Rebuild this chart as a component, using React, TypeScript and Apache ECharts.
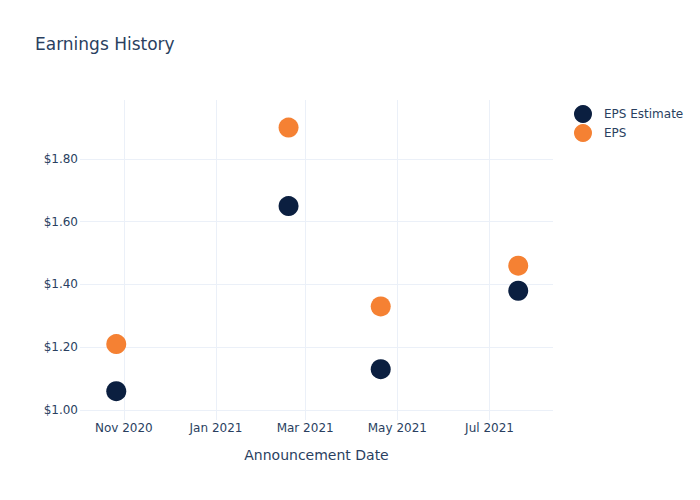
import React, { useEffect, useRef } from "react";
import * as echarts from "echarts";

const announcementDates = ["2020-10-27", "2021-02-18", "2021-04-20", "2021-07-20"];
const epsEstimate = [1.06, 1.65, 1.13, 1.38];
const epsActual = [1.21, 1.9, 1.33, 1.46];
const xTickDates = ["2020-11-01", "2021-01-01", "2021-03-01", "2021-05-01", "2021-07-01"];
const yTicks = [1.0, 1.2, 1.4, 1.6, 1.8];
const xRange = ["2020-10-03", "2021-08-12"];
const yRange = [0.968, 1.988];

const MONTHS = ["Jan", "Feb", "Mar", "Apr", "May", "Jun", "Jul", "Aug", "Sep", "Oct", "Nov", "Dec"];
const ts = (s: string) => {
  const [y, m, d] = s.split("-").map(Number);
  return Date.UTC(y, m - 1, d);
};

export default function App() {
  const ref = useRef<HTMLDivElement>(null);
  useEffect(() => {
    if (!ref.current) return;
    const chart = echarts.init(ref.current, undefined, { renderer: "svg" });
    const textColor = "#2a3f5f";
    const gridColor = "#ebf0f8";
    const font = "'DejaVu Sans', sans-serif";
    const xTicks = xTickDates.map(ts);
    chart.setOption({
      animation: false,
      backgroundColor: "#ffffff",
      textStyle: { fontFamily: font },
      title: {
        text: "Earnings History",
        left: 35,
        top: 35,
        padding: 0,
        textStyle: { color: textColor, fontSize: 17, fontWeight: "normal", fontFamily: font },
      },
      legend: {
        orient: "vertical",
        left: 574,
        top: 105,
        padding: 0,
        itemWidth: 18,
        itemHeight: 18,
        itemGap: 1,
        icon: "circle",
        textStyle: { color: textColor, fontSize: 12, fontFamily: font, padding: [0, 0, 0, 7] },
        data: ["EPS Estimate", "EPS"],
      },
      grid: { left: 80, right: 147, top: 100, bottom: 80, containLabel: false },
      xAxis: {
        type: "value",
        min: ts(xRange[0]),
        max: ts(xRange[1]),
        name: "Announcement Date",
        nameLocation: "middle",
        nameGap: 28,
        nameTextStyle: { color: textColor, fontSize: 14, fontFamily: font },
        axisLine: { show: false },
        axisTick: { show: false, customValues: xTicks },
        axisLabel: {
          customValues: xTicks,
          color: textColor,
          fontSize: 12,
          margin: 2,
          fontFamily: font,
          formatter: (v: number) => {
            const d = new Date(v);
            return `${MONTHS[d.getUTCMonth()]} ${d.getUTCFullYear()}`;
          },
        },
        splitLine: { show: true, lineStyle: { color: gridColor, width: 1 } },
      },
      yAxis: {
        type: "value",
        min: yRange[0],
        max: yRange[1],
        axisLine: { show: false },
        axisTick: { show: false, customValues: yTicks },
        axisLabel: {
          customValues: yTicks,
          color: textColor,
          fontSize: 12,
          margin: 2,
          fontFamily: font,
          formatter: (v: number) => `$${v.toFixed(2)}`,
        },
        splitLine: { show: true, lineStyle: { color: gridColor, width: 1 } },
      },
      series: [
        {
          name: "EPS Estimate",
          type: "scatter",
          symbol: "circle",
          symbolSize: 20,
          itemStyle: { color: "#0b1f40", opacity: 1 },
          data: announcementDates.map((d, i) => [ts(d), epsEstimate[i]]),
        },
        {
          name: "EPS",
          type: "scatter",
          symbol: "circle",
          symbolSize: 20,
          itemStyle: { color: "#f58133", opacity: 1 },
          data: announcementDates.map((d, i) => [ts(d), epsActual[i]]),
        },
      ],
    });
    return () => chart.dispose();
  }, []);
  return <div ref={ref} style={{ width: 700, height: 500, position: "absolute", left: 0, top: 0 }} />;
}
